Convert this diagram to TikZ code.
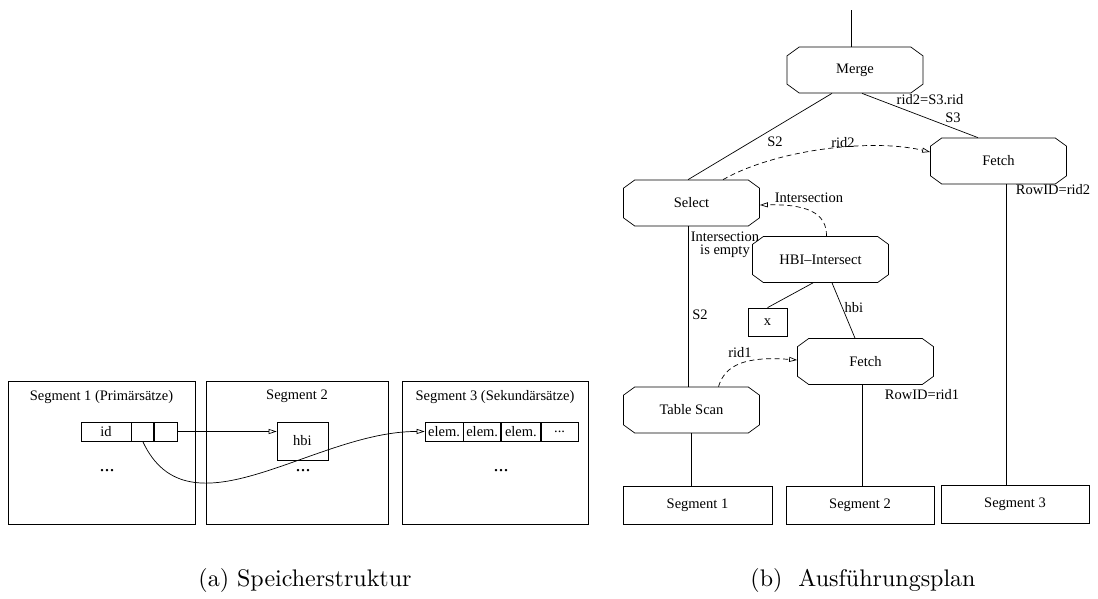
\documentclass[tikz,border=0pt]{standalone}
\usepackage{fontspec}
\setmainfont{Liberation Serif}
\newfontfamily\capfont{lmroman10-regular.otf}
\usetikzlibrary{shapes.misc,arrows.meta}

\tikzset{
	op/.style={draw, chamfered rectangle, chamfered rectangle xsep=8pt, chamfered rectangle angle=54, minimum width=136pt, minimum height=46pt, inner sep=0pt},
	box/.style={draw, rectangle, inner sep=0pt},
	cell/.style={draw, rectangle, inner sep=0pt, minimum height=19pt},
	more/.style={inner sep=0pt, font=\fontsize{20}{20}\selectfont},
	lbl/.style={inner sep=1pt},
	tip/.style={-{Triangle[open,length=8pt,width=5pt]}},
	ptr/.style={dash pattern=on 5pt off 3.5pt},
	subcap/.style={font=\capfont\fontsize{24}{28}\selectfont}
}

\begin{document}
\begin{tikzpicture}[x=1pt,y=-1pt,line width=0.7pt,font=\fontsize{14.5}{16}\selectfont]
		\useasboundingbox (0,0) rectangle (1098,598);
		% storage segments
		\node[box, minimum width=187pt, minimum height=143pt] (sa) at (101.5,452.5) {};
		\node[box, minimum width=182pt, minimum height=143pt] (sb) at (297,452.5) {};
		\node[box, minimum width=186pt, minimum height=143pt] (sc) at (495,452.5) {};
		\node[anchor=north] (ta) at ([yshift=-6pt]sa.north) {Segment 1 (Primärsätze)};
		\node[anchor=north] (tb) at ([yshift=-6pt]sb.north) {Segment 2};
		\node[anchor=north] (tc) at ([yshift=-6pt]sc.north) {Segment 3 (Sekundärsätze)};
		\node[cell, minimum width=50pt] (id) at (106,431.5) {id};
		\node[cell, minimum width=22pt, anchor=west] (ra) at (id.east) {};
		\node[cell, minimum width=23pt, anchor=west] (rb) at (ra.east) {};
		\node[box, minimum width=51pt, minimum height=38pt] (hbi) at (302.5,441) {hbi};
		\node[cell, minimum width=38pt] (ea) at (444,431.5) {elem.};
		\node[cell, minimum width=37pt, anchor=west] (eb) at (ea.east) {elem.};
		\node[cell, minimum width=39pt, anchor=west] (ec) at (eb.east) {elem.};
		\node[cell, minimum width=37pt, anchor=west] (ed) at (ec.east) {...};
		\node[more] (da) at (107,471) {...};
		\node[more] (db) at (303,471) {...};
		\node[more] (dc) at (501,471) {...};
		\draw[tip] (rb.east) -- (rb.east -| hbi.west);
		\draw[tip] (ra.south) .. controls (189,541) and (314,431) .. (ea.west);
		% query plan
		\coordinate (root) at (851,10);
		\node[op] (merge) at (855,70) {Merge};
		\node[op] (fetchc) at (998.5,161) {Fetch};
		\node[op] (select) at (691.5,203) {Select};
		\node[op] (isect) at (820.5,259.5) {HBI--Intersect};
		\node[box, minimum width=39pt, minimum height=28pt] (x) at (767.5,322) {x};
		\node[op] (fetchb) at (865.5,361.5) {Fetch};
		\node[op] (scan) at (691.5,410) {Table Scan};
		\node[box, minimum width=149pt, minimum height=38pt] (ga) at (697.5,505) {Segment 1};
		\node[box, minimum width=148pt, minimum height=38pt] (gb) at (860,505) {Segment 2};
		\node[box, minimum width=148pt, minimum height=38pt] (gc) at (1015,504) {Segment 3};
		\draw (root) -- (root |- merge.north);
		\draw ([xshift=-23pt]merge.south) -- ([xshift=-3.5pt]select.north);
		\draw ([xshift=7pt]merge.south) -- ([xshift=-20.5pt]fetchc.north);
		\draw ([xshift=7.5pt]fetchc.south) -- ([xshift=7.5pt]fetchc.south |- gc.north);
		\draw ([xshift=-3.5pt]select.south) -- ([xshift=-3.5pt]select.south |- scan.north);
		\draw (scan.south) -- (scan.south |- ga.north);
		\draw ([xshift=-3.5pt]fetchb.south) -- ([xshift=-3.5pt]fetchb.south |- gb.north);
		\draw ([xshift=-7.5pt]isect.south) -- (x.north);
		\draw ([xshift=11.5pt]isect.south) -- ([xshift=-10.5pt]fetchb.north);
		\draw[tip, ptr] ([xshift=31.5pt]select.north) .. controls (775,150) and (870,138) .. ([yshift=9pt]fetchc.west);
		\draw[tip, ptr] ([xshift=6pt]isect.north) .. controls (827,212) and (805,204) .. ([yshift=-2pt]select.east);
		\draw[tip, ptr] ([xshift=27pt]scan.north) .. controls (725,365) and (745,356) .. ([yshift=1.5pt]fetchb.west);
		\node[lbl] (la) at (775,142) {S2};
		\node[lbl] (lb) at (930,100) {rid2=S3.rid};
		\node[lbl] (lc) at (953,118) {S3};
		\node[lbl] (ld) at (843,143) {rid2};
		\node[lbl] (le) at (1053,190) {RowID=rid2};
		\node[lbl] (lf) at (809,198) {Intersection};
		\node[lbl, align=center] (lg) at (725,245) {Intersection\\[-3pt]is empty};
		\node[lbl] (lh) at (700,315) {S2};
		\node[lbl] (li) at (854,308) {hbi};
		\node[lbl] (lj) at (740,353) {rid1};
		\node[lbl] (lk) at (922,395) {RowID=rid1};
		% captions
		\node[subcap] (capa) at (305,580) {(a)~Speicherstruktur};
		\node[subcap] (capb) at (863,580) {(b)~~Ausführungsplan};
	\end{tikzpicture}
\end{document}
